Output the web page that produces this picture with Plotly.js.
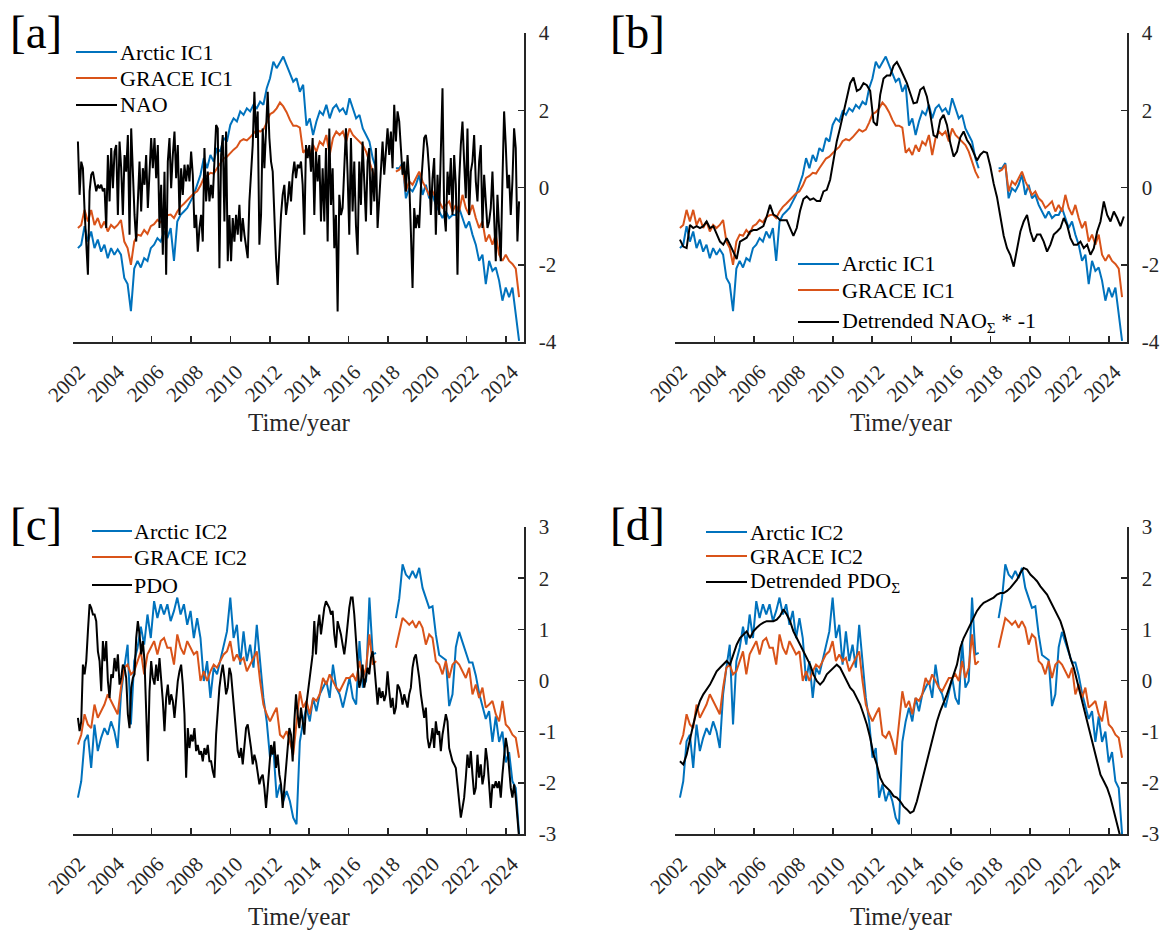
<!DOCTYPE html>
<html><head><meta charset="utf-8">
<script src="https://cdn.plot.ly/plotly-3.0.1.min.js"></script>
<style>html,body{margin:0;padding:0;background:#fff}#chart{width:1161px;height:931px}</style>
</head><body><div id="chart"></div>
<script>
// ---------------- DATA ----------------
// Time spans (decimal years) of the series
const icSeg1Start = 2002.25, icSeg1End = 2017.40;   // before the GRACE gap
const icSeg2Start = 2018.41, icSeg2End = 2024.67;   // after the GRACE gap
const monthlyStart = 2002.25, monthlyEnd = 2024.67; // NAO / PDO monthly indices
const naoCumStart = 2002.25, naoCumEnd = 2024.76;
const pdoCumStart = 2002.25, pdoCumEnd = 2024.59;

const yearTicks = [2002,2004,2006,2008,2010,2012,2014,2016,2018,2020,2022,2024];
const ic1Ticks = [-4,-2,0,2,4];
const ic2Ticks = [-3,-2,-1,0,1,2,3];

const legendA = ['Arctic IC1', 'GRACE IC1', 'NAO'];
const legendB = ['Arctic IC1', 'GRACE IC1', 'Detrended NAO<sub>Σ</sub> * -1'];
const legendC = ['Arctic IC2', 'GRACE IC2', 'PDO'];
const legendD = ['Arctic IC2', 'GRACE IC2', 'Detrended PDO<sub>Σ</sub>'];

const arcticIC1_seg1 = [-1.57,-1.48,-1.0,-1.4,-1.14,-1.57,-1.35,-1.66,-1.48,-1.83,
 -1.57,-1.74,-1.6,-1.74,-2.34,-2.5,-3.2,-2.1,-1.9,-2.07,
 -1.83,-1.9,-1.57,-1.48,-1.31,-1.4,-1.14,-1.31,-1.05,-1.9,
 -0.88,-0.71,-0.62,-0.53,-0.36,-0.19,0.07,0.33,0.76,0.5,
 0.84,0.67,1.02,0.93,1.28,1.19,1.62,1.79,1.71,1.97,
 1.88,2.05,1.97,2.14,2.05,2.22,2.14,2.57,2.83,3.26,
 3.09,3.26,3.39,3.17,2.95,2.74,2.83,2.48,2.66,1.6,
 1.79,1.36,1.71,1.97,1.88,2.14,1.79,2.05,2.14,1.97,
 2.05,1.88,2.31,2.05,1.79,1.88,1.53,1.36,1.19,0.76,
 0.5];
const arcticIC1_seg2 = [0.5,0.5,0.63,-0.28,-0.02,-0.1,0.07,0.33,-0.19,0.07,
 -0.28,-0.19,-0.45,-0.62,-0.79,-0.62,-0.79,-0.71,-0.71,-0.53,
 -0.79,-1.05,-0.88,-1.22,-1.48,-1.9,-1.74,-2.5,-1.9,-2.16,
 -2.07,-2.41,-2.93,-2.59,-2.84,-2.59,-3.28,-3.97];

const graceIC1_seg1 = [-1.05,-0.97,-0.58,-0.88,-0.58,-0.97,-0.79,-1.05,-0.88,-1.14,
 -0.97,-1.05,-0.97,-0.84,-1.4,-1.57,-2.0,-1.4,-1.22,-1.25,
 -1.1,-1.2,-1.0,-0.95,-0.84,-0.9,-0.77,-0.72,-0.7,-0.79,
 -0.62,-0.5,-0.42,-0.33,-0.25,-0.15,-0.1,0.05,0.25,0.3,
 0.38,0.36,0.5,0.63,0.75,0.8,0.9,0.98,1.05,1.2,
 1.25,1.22,1.3,1.4,1.5,1.45,1.5,1.68,1.9,1.95,
 2.05,2.2,2.1,1.95,1.75,1.6,1.6,1.55,0.9,1.0,
 0.84,1.1,0.93,1.19,1.1,1.36,0.84,1.28,1.45,1.36,
 1.45,1.19,1.53,1.36,1.28,1.19,1.1,0.93,0.67,0.41,
 0.24];
const graceIC1_seg2 = [0.41,0.46,0.59,-0.1,0.16,0.07,0.24,0.41,0.16,-0.02,
 -0.19,-0.1,-0.28,-0.36,-0.53,-0.45,-0.36,-0.62,-0.45,-0.62,
 -0.19,-0.53,-0.71,-0.45,-0.79,-1.05,-0.88,-1.4,-1.22,-1.48,
 -1.22,-1.74,-1.9,-1.74,-1.9,-1.98,-2.1,-2.84];

const nao = [1.19,-0.19,0.67,0.5,-0.6,-1.5,-2.26,-0.1,0.33,0.41,
 0.2,-0.1,0.07,-0.02,0.07,-0.1,-0.02,-1.05,0.84,-0.36,
 1.02,-0.02,0.93,1.1,-0.71,1.19,0.5,-0.71,0.84,0.41,
 1.36,-1.22,1.53,0.24,-0.71,-1.4,-0.19,0.67,-0.62,0.5,
 0.07,0.84,-0.53,0.33,1.28,0.5,1.28,0.24,1.1,-1.05,
 0.07,-1.74,0.41,-2.26,0.67,1.28,-0.02,0.84,1.45,0.24,
 1.1,-0.71,0.5,-0.19,0.59,0.16,0.59,0.16,0.93,0.33,
 -1.05,-0.71,-1.66,-1.05,-0.71,-1.4,1.02,-0.36,0.41,-0.36,
 0.07,-0.28,0.67,1.62,1.53,-2.09,0.84,1.36,-0.88,1.45,
 -1.91,-0.71,-1.91,-0.79,-1.4,-0.71,-1.22,-0.45,-1.4,-0.79,
 -1.22,-1.48,-1.83,-0.36,0.33,1.1,2.48,1.28,1.97,-1.48,
 -0.71,1.53,0.5,1.71,2.48,1.28,0.67,0.41,-0.88,-1.83,
 -2.52,-1.4,-0.71,-0.19,0.07,-0.71,-0.36,0.16,-0.36,0.33,
 0.67,0.24,0.59,0.5,0.67,0.07,-1.22,1.1,0.76,1.1,
 0.41,1.28,-0.71,0.93,0.16,0.84,-0.88,0.5,-0.88,1.02,
 -1.4,1.53,-0.45,0.5,-1.57,-0.71,-3.21,-0.19,-0.71,-0.53,
 0.33,1.53,0.33,-1.22,1.28,-0.62,0.67,-0.97,-1.74,0.67,
 -0.45,1.19,0.16,-0.88,0.67,1.02,-0.71,0.5,-0.36,1.02,
 -1.05,-0.36,0.5,1.19,0.33,1.1,1.53,0.84,1.45,0.5,
 2.14,1.19,1.97,1.71,1.02,0.33,0.67,-0.1,0.84,0.16,
 -1.14,-2.6,-0.53,-1.05,-0.71,-1.05,-0.02,0.67,1.28,1.36,
 1.02,0.41,-0.71,0.24,0.76,-1.22,0.33,-0.71,0.84,2.57,
 -0.62,-1.14,0.41,-0.19,0.76,-0.71,0.84,0.07,-2.26,0.16,
 1.1,1.71,0.67,-0.28,1.53,-0.71,0.41,0.67,1.36,0.16,
 -0.36,0.67,1.1,-1.05,0.33,-0.36,-1.05,-0.88,-0.53,0.41,
 -0.71,-1.91,-0.19,-1.05,-1.91,0.16,1.97,1.1,-0.02,0.33,
 -0.71,0.16,1.53,1.02,-1.4,-0.36];

const naoCumNeg = [-1.35,-1.53,-1.57,-0.97,-1.05,-1.0,-1.05,-1.0,-0.88,-1.05,
 -1.0,-1.22,-1.4,-1.48,-1.31,-1.48,-1.66,-1.85,-1.4,-1.35,
 -1.3,-1.14,-1.1,-1.1,-1.05,-1.0,-0.75,-0.45,-0.7,-0.75,
 -0.85,-0.85,-0.85,-1.05,-1.25,-1.05,-0.6,-0.3,-0.23,-0.32,
 -0.28,-0.35,-0.35,-0.1,-0.06,0.2,0.75,1.2,1.55,1.95,
 2.3,2.7,2.85,2.5,2.55,2.7,2.65,2.5,1.7,1.6,
 2.4,2.82,2.9,2.9,3.15,3.25,3.08,2.9,2.7,2.44,
 2.18,2.2,2.53,2.6,2.35,1.9,1.35,1.3,1.75,1.88,
 1.62,1.15,0.8,0.93,1.3,1.45,1.23,1.1,0.9,0.7,
 0.85,0.93,0.9,0.55,0.1,-0.25,-0.75,-1.25,-1.57,-1.75,
 -2.05,-1.57,-1.14,-0.88,-0.71,-1.14,-1.4,-1.22,-1.22,-1.4,
 -1.66,-1.48,-1.22,-1.14,-1.05,-0.79,-0.97,-1.31,-1.48,-1.48,
 -1.4,-1.57,-1.48,-1.74,-1.57,-1.14,-0.88,-0.36,-0.71,-0.88,
 -0.62,-0.79,-1.0,-0.75];

const arcticIC2_seg1 = [-2.29,-1.97,-1.19,-1.06,-1.71,-0.86,-1.38,-1.12,-0.93,-1.06,
 -0.8,-0.99,-1.32,-0.27,0.25,0.7,-0.86,0.38,0.64,1.05,
 0.7,1.29,0.83,1.55,1.22,1.49,1.29,1.49,1.16,1.36,
 1.62,1.29,1.49,1.09,1.36,0.83,1.22,0.83,-0.01,0.38,
 -0.34,0.25,0.12,0.38,0.64,0.96,1.62,0.83,1.09,0.31,
 0.96,0.38,0.7,0.25,1.09,0.31,-0.34,-0.8,-1.51,-1.32,
 -2.29,-2.03,-2.36,-2.16,-2.36,-2.68,-2.81,-1.2,-0.8,-0.53,
 -0.8,-0.34,-0.6,-0.27,-0.14,-0.01,-0.34,0.31,-0.14,-0.27,
 -0.53,-0.21,0.05,-0.34,-0.47,0.77,-0.14,-0.01,1.62,0.51,
 0.54];
const arcticIC2_seg2 = [1.22,1.6,2.27,2.07,2.0,2.14,2.0,2.2,1.81,1.62,
 1.42,1.45,0.9,0.5,0.45,0.4,-0.5,-0.27,0.65,0.95,
 0.75,0.55,0.35,0.35,0.1,-0.25,-0.5,-0.75,-0.6,-1.2,
 -0.7,-1.2,-1.0,-1.6,-1.4,-1.97,-2.1,-3.0];

const graceIC2_seg1 = [-1.25,-1.06,-0.66,-0.86,-0.93,-0.47,-0.73,-0.6,-0.47,-0.27,
 -0.4,-0.53,-0.66,-0.14,0.25,0.31,0.12,0.18,0.38,0.57,
 0.12,0.51,0.64,0.77,0.51,0.77,0.83,0.64,0.64,0.31,
 0.9,0.64,0.51,0.77,0.64,0.51,0.57,-0.01,0.18,-0.01,
 0.18,0.31,0.25,0.38,0.51,0.57,0.77,0.38,0.51,0.38,
 0.44,0.18,0.31,0.44,0.57,-0.01,-0.47,-0.66,-0.8,-0.66,
 -0.53,-1.06,-1.12,-0.99,-1.19,-1.45,-0.8,-0.21,-0.53,-0.4,
 -0.66,-0.34,-0.4,-0.27,0.05,-0.08,0.12,-0.01,-0.14,-0.21,
 -0.08,0.05,0.05,0.12,-0.01,0.38,0.05,0.25,0.9,0.31,
 0.38];
const graceIC2_seg2 = [0.64,0.96,1.22,1.16,1.09,1.16,1.03,1.16,1.03,0.7,
 0.9,0.83,0.38,0.31,0.12,0.38,0.05,0.31,0.38,0.31,
 0.18,0.05,0.25,-0.27,-0.08,-0.34,-0.14,-0.53,-0.47,-0.4,
 -0.66,-0.8,-0.4,-0.86,-0.93,-1.06,-1.12,-1.51];

const pdo = [-0.73,-0.99,-0.8,0.31,0.12,0.38,0.96,1.49,1.42,1.29,
 1.29,1.16,0.57,0.38,-0.21,0.77,0.38,0.77,-0.01,-0.34,
 0.12,0.05,0.44,0.18,0.51,-0.08,0.05,0.31,0.25,0.05,
 -0.66,-0.93,-0.14,0.05,0.12,0.83,1.16,0.9,0.51,0.77,
 0.38,-0.53,-1.58,-0.21,0.38,0.05,-0.08,0.31,-0.01,0.44,
 0.05,-0.4,-0.99,-0.34,-0.08,-0.47,-0.27,-0.4,-0.73,-0.27,
 -0.01,0.18,0.31,-0.08,-0.66,-1.9,-0.93,-1.32,-1.06,-1.19,
 -0.93,-1.38,-1.26,-1.45,-1.38,-1.58,-1.32,-1.45,-1.26,-1.58,
 -1.58,-1.77,-1.9,-1.06,-0.53,-0.14,0.12,0.31,0.05,-0.27,
 -0.14,0.25,0.12,-0.27,-0.66,-0.93,-1.38,-1.51,-1.32,-1.64,
 -1.19,-0.93,-0.86,-1.06,-1.32,-1.64,-1.45,-1.58,-1.84,-2.03,
 -1.9,-1.84,-2.1,-2.49,-2.1,-1.58,-1.26,-1.45,-1.19,-1.71,
 -1.45,-1.84,-2.03,-2.49,-2.1,-1.84,-1.32,-0.93,-1.06,-1.58,
 -0.8,-0.27,-0.66,-0.93,-0.53,-0.8,-1.06,-0.53,-0.27,-0.01,
 0.25,0.51,1.16,0.51,1.03,1.29,0.9,1.16,1.42,1.55,
 1.49,1.42,1.29,1.36,0.9,0.64,1.16,1.03,0.9,0.7,
 0.51,0.77,1.16,1.42,1.62,1.62,1.29,0.77,0.25,-0.14,
 -0.01,0.31,-0.14,0.05,0.25,0.12,0.44,0.57,0.31,-0.08,
 -0.47,-0.14,-0.34,-0.21,-0.4,-0.27,0.18,-0.21,-0.53,-0.34,
 -0.66,-0.53,-0.08,-0.14,-0.27,-0.47,-0.27,-0.4,-0.53,-0.27,
 -0.14,0.25,0.44,0.51,0.31,0.05,-0.27,-0.53,-0.73,-0.53,
 -1.12,-1.32,-1.19,-0.93,-1.32,-0.8,-1.06,-0.99,-1.38,-1.06,
 -0.86,-0.66,-0.8,-1.32,-1.45,-1.58,-1.64,-1.71,-2.03,-2.42,
 -2.68,-2.49,-2.29,-1.9,-1.45,-1.71,-1.38,-1.84,-2.23,-2.1,
 -1.45,-1.9,-1.64,-2.03,-1.84,-1.32,-1.58,-2.03,-2.49,-2.03,
 -2.1,-1.97,-2.1,-1.97,-2.29,-1.84,-1.45,-1.12,-1.32,-1.71,
 -2.1,-2.29,-2.03,-2.29,-2.75,-3.07];

const pdoCum = [-1.58,-1.64,-1.45,-1.12,-0.86,-0.6,-0.4,-0.27,-0.18,-0.08,
 0.05,0.18,0.25,0.31,0.38,0.31,0.51,0.7,0.83,0.9,
 0.96,0.83,0.96,1.03,1.09,1.13,1.16,1.16,1.16,1.19,
 1.26,1.39,1.29,1.16,0.96,0.83,0.7,0.57,0.44,0.31,
 0.12,-0.01,-0.08,-0.01,0.12,0.18,0.25,0.31,0.25,0.12,
 -0.01,-0.14,-0.21,-0.34,-0.47,-0.66,-0.86,-1.12,-1.45,-1.64,
 -1.9,-2.03,-2.1,-2.16,-2.26,-2.29,-2.36,-2.46,-2.52,-2.59,
 -2.55,-2.36,-2.1,-1.84,-1.58,-1.32,-1.06,-0.8,-0.6,-0.44,
 -0.27,-0.08,0.12,0.31,0.64,0.83,0.96,1.09,1.22,1.36,
 1.45,1.52,1.55,1.58,1.62,1.68,1.71,1.71,1.75,1.81,
 1.88,1.97,2.1,2.2,2.17,2.07,2.01,1.94,1.84,1.75,
 1.68,1.55,1.42,1.29,1.16,0.96,0.7,0.44,0.25,-0.01,
 -0.27,-0.53,-0.8,-1.06,-1.32,-1.58,-1.84,-1.97,-2.1,-2.29,
 -2.55,-2.81,-3.07];

// ---------------- helpers ----------------
function timeSpan(start, end, n) {
  const step = (end - start) / (n - 1);
  return Array.from({length: n}, (_, i) => start + i * step);
}
function gapped(seg1, seg2) {
  const t1 = timeSpan(icSeg1Start, icSeg1End, seg1.length);
  const t2 = timeSpan(icSeg2Start, icSeg2End, seg2.length);
  return {x: t1.concat([(icSeg1End + icSeg2Start) / 2], t2), y: seg1.concat([null], seg2)};
}

const FONT = 'Liberation Serif';
const BLUE = '#0072BD', ORANGE = '#D95319', BLACK = '#000000', AX = '#262626';
const COLORS = [BLUE, ORANGE, BLACK];
const W = 1161, H = 931;
const px = v => v / W;
const py = v => 1 - v / H;

const ic1A = gapped(arcticIC1_seg1, arcticIC1_seg2);
const ic1G = gapped(graceIC1_seg1, graceIC1_seg2);
const ic2A = gapped(arcticIC2_seg1, arcticIC2_seg2);
const ic2G = gapped(graceIC2_seg1, graceIC2_seg2);
const tMonthly = timeSpan(monthlyStart, monthlyEnd, nao.length);
const tPdo = timeSpan(monthlyStart, monthlyEnd, pdo.length);
const tNaoCum = timeSpan(naoCumStart, naoCumEnd, naoCumNeg.length);
const tPdoCum = timeSpan(pdoCumStart, pdoCumEnd, pdoCum.length);

function line(d, color, name, xa, ya) {
  return {type: 'scatter', mode: 'lines', x: d.x, y: d.y, name: name,
          xaxis: xa, yaxis: ya, connectgaps: false, showlegend: false,
          line: {color: color, width: 2}, hoverinfo: 'skip'};
}

const traces = [
  line(ic1A, BLUE, legendA[0], 'x', 'y'),
  line(ic1G, ORANGE, legendA[1], 'x', 'y'),
  line({x: tMonthly, y: nao}, BLACK, legendA[2], 'x', 'y'),
  line(ic1A, BLUE, legendB[0], 'x2', 'y2'),
  line(ic1G, ORANGE, legendB[1], 'x2', 'y2'),
  line({x: tNaoCum, y: naoCumNeg}, BLACK, legendB[2], 'x2', 'y2'),
  line(ic2A, BLUE, legendC[0], 'x3', 'y3'),
  line(ic2G, ORANGE, legendC[1], 'x3', 'y3'),
  line({x: tPdo, y: pdo}, BLACK, legendC[2], 'x3', 'y3'),
  line(ic2A, BLUE, legendD[0], 'x4', 'y4'),
  line(ic2G, ORANGE, legendD[1], 'x4', 'y4'),
  line({x: tPdoCum, y: pdoCum}, BLACK, legendD[2], 'x4', 'y4')
];

const tickFont = {family: FONT, size: 21, color: AX};
function xAxis(d0, d1, anchor) {
  return {domain: [px(d0), px(d1)], range: [2002, 2024.92], anchor: anchor,
    showline: true, linecolor: AX, linewidth: 1.5, ticks: 'inside', ticklen: 6,
    tickwidth: 1.5, tickcolor: AX, tickvals: yearTicks, ticktext: yearTicks.map(String),
    tickangle: -45, tickfont: tickFont, ticklabelstandoff: 8, ticklabelshift: 6,
    showgrid: false, zeroline: false, fixedrange: true};
}
function yAxis(top, bottom, anchor, ticks) {
  return {domain: [py(bottom), py(top)], range: [ticks[0], ticks[ticks.length - 1]], anchor: anchor,
    side: 'right', showline: true, linecolor: AX, linewidth: 1.5, ticks: 'inside', ticklen: 6,
    tickwidth: 1.5, tickcolor: AX, tickvals: ticks, ticktext: ticks.map(String),
    tickfont: tickFont, ticklabelstandoff: 9, showgrid: false, zeroline: false, fixedrange: true};
}

// Legend keys (line swatch + text) placed like the reference legends
const shapes = [];
const annotations = [];
function addLegend(names, x0, x1, xt, rows) {
  names.forEach((nm, i) => {
    shapes.push({type: 'line', xref: 'paper', yref: 'paper', x0: px(x0), x1: px(x1),
      y0: py(rows[i]), y1: py(rows[i]), line: {color: COLORS[i], width: 2}});
    annotations.push({text: nm, x: px(xt), y: py(rows[i]), xref: 'paper', yref: 'paper',
      xanchor: 'left', yanchor: 'middle', showarrow: false, borderpad: 0,
      font: {family: FONT, size: 22, color: BLACK}});
  });
}
addLegend(legendA, 76, 117, 119, [52, 78, 105]);
addLegend(legendB, 798, 839, 841, [264, 290, 322]);
addLegend(legendC, 92, 132, 133, [531, 557, 585]);
addLegend(legendD, 706, 747, 749, [532, 556, 582]);

function label(text, x, y) {
  annotations.push({text: text, x: px(x), y: py(y), xref: 'paper', yref: 'paper', xanchor: 'left',
    yanchor: 'middle', showarrow: false, font: {family: FONT, size: 47, color: BLACK}});
}
function xTitle(x, y) {
  annotations.push({text: 'Time/year', x: px(x), y: py(y), xref: 'paper', yref: 'paper', xanchor: 'center',
    yanchor: 'middle', showarrow: false, font: {family: FONT, size: 25, color: AX}});
}
label('[a]', 8, 32); label('[b]', 608, 32); label('[c]', 8, 524); label('[d]', 608, 524);
xTitle(299, 423); xTitle(901, 423); xTitle(299, 916); xTitle(901, 916);

const layout = {
  width: W, height: H, margin: {l: 0, r: 0, t: 0, b: 0},
  paper_bgcolor: '#ffffff', plot_bgcolor: '#ffffff', font: {family: FONT, size: 21, color: AX},
  showlegend: false,
  xaxis: xAxis(73, 524, 'y'),  yaxis: yAxis(33, 342, 'x', ic1Ticks),
  xaxis2: xAxis(675, 1127, 'y2'), yaxis2: yAxis(33, 342, 'x2', ic1Ticks),
  xaxis3: xAxis(73, 524, 'y3'), yaxis3: yAxis(527, 834, 'x3', ic2Ticks),
  xaxis4: xAxis(675, 1127, 'y4'), yaxis4: yAxis(527, 834, 'x4', ic2Ticks),
  shapes: shapes,
  annotations: annotations
};

Plotly.newPlot('chart', traces, layout, {staticPlot: true, displayModeBar: false});
</script></body></html>
